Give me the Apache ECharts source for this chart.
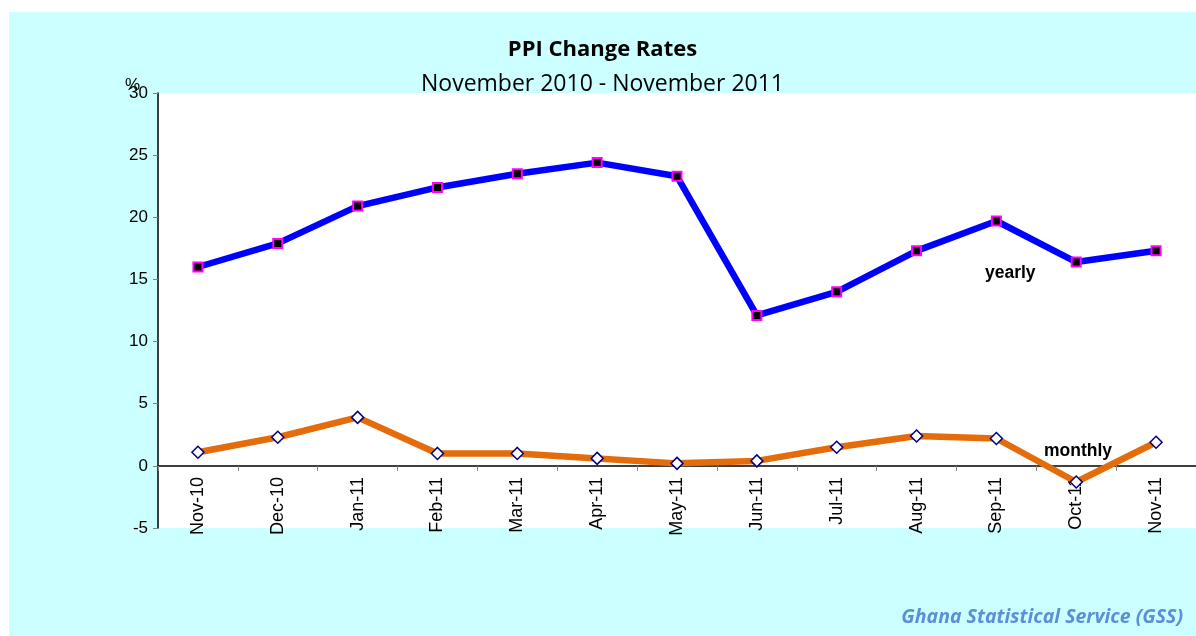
<!DOCTYPE html>
<html>
<head>
<meta charset="utf-8">
<script src="https://cdn.jsdelivr.net/npm/echarts@6/dist/echarts.min.js"></script>
<style>
  html, body { margin: 0; padding: 0; background: #ffffff; }
  #chart { position: absolute; left: 9px; top: 12px; width: 1187px; height: 624px; }
</style>
</head>
<body>
<div id="chart"></div>
<script>
var months = ["Nov-10", "Dec-10", "Jan-11", "Feb-11", "Mar-11", "Apr-11", "May-11",
  "Jun-11", "Jul-11", "Aug-11", "Sep-11", "Oct-11", "Nov-11"];
var yearly = [16.0, 17.9, 20.9, 22.4, 23.5, 24.4, 23.3, 12.1, 14.0, 17.3, 19.7, 16.4, 17.3];
var monthly = [1.1, 2.3, 3.9, 1.0, 1.0, 0.6, 0.2, 0.4, 1.5, 2.4, 2.2, -1.3, 1.9];

var axisFont = "'Liberation Sans', Arial, sans-serif";
var titleFont = "'Open Sans', 'Noto Sans', sans-serif";

var chart = echarts.init(document.getElementById("chart"), null, { renderer: "canvas" });

var option = {
  backgroundColor: "#ccffff",
  animation: false,
  title: [
    {
      text: "PPI Change Rates",
      left: "center",
      top: 22,
      textStyle: { fontFamily: titleFont, fontSize: 22, fontWeight: "bold", color: "#000" }
    },
    {
      text: "November 2010 - November 2011",
      left: "center",
      top: 56,
      textStyle: { fontFamily: titleFont, fontSize: 23, fontWeight: "normal", color: "#000" }
    },
    {
      text: "%",
      left: 111,
      top: 60,
      textStyle: { fontFamily: axisFont, fontSize: 17, fontWeight: "normal", color: "#000" }
    },
    {
      text: "Ghana Statistical Service (GSS)",
      right: 8,
      top: 590,
      textStyle: { fontFamily: titleFont, fontSize: 19.5, fontStyle: "italic", fontWeight: "bold", color: "#5b8fd6" }
    }
  ],
  grid: {
    left: 149,
    top: 81,
    width: 1040,
    height: 435,
    show: true,
    backgroundColor: "#ffffff",
    borderWidth: 0
  },
  xAxis: {
    type: "category",
    data: months,
    boundaryGap: true,
    axisLine: { onZero: true, lineStyle: { color: "#000", width: 1.5 } },
    axisTick: { show: true, alignWithLabel: false, length: 5, lineStyle: { color: "#808080" } },
    axisLabel: { rotate: 90, margin: -51, color: "#000", fontFamily: axisFont, fontSize: 18, interval: 0 },
    splitLine: { show: false }
  },
  yAxis: {
    type: "value",
    min: -5,
    max: 30,
    interval: 5,
    axisLine: { show: true, lineStyle: { color: "#000", width: 1.5 } },
    axisTick: { show: true, length: 5, lineStyle: { color: "#808080" } },
    axisLabel: { color: "#000", fontFamily: axisFont, fontSize: 17, margin: 10 },
    splitLine: { show: false }
  },
  series: [
    {
      name: "yearly",
      type: "line",
      data: yearly,
      symbol: "rect",
      symbolSize: 9,
      lineStyle: { color: "#0000ff", width: 6.5 },
      itemStyle: { color: "#000000", borderColor: "#ff00ff", borderWidth: 2 },
      z: 3
    },
    {
      name: "monthly",
      type: "line",
      data: monthly,
      symbol: "diamond",
      symbolSize: 12,
      lineStyle: { color: "#e46c0a", width: 6.5 },
      itemStyle: { color: "#ffffff", borderColor: "#000080", borderWidth: 1.5 },
      z: 3
    }
  ],
  graphic: [
    {
      type: "text",
      left: 976,
      top: 252,
      style: { text: "yearly", font: "bold 17.5px 'Liberation Sans', Arial, sans-serif", fill: "#000" },
      z: 10
    },
    {
      type: "text",
      left: 1035,
      top: 430,
      style: { text: "monthly", font: "bold 17.5px 'Liberation Sans', Arial, sans-serif", fill: "#000" },
      z: 10
    }
  ]
};

chart.setOption(option);
</script>
</body>
</html>
